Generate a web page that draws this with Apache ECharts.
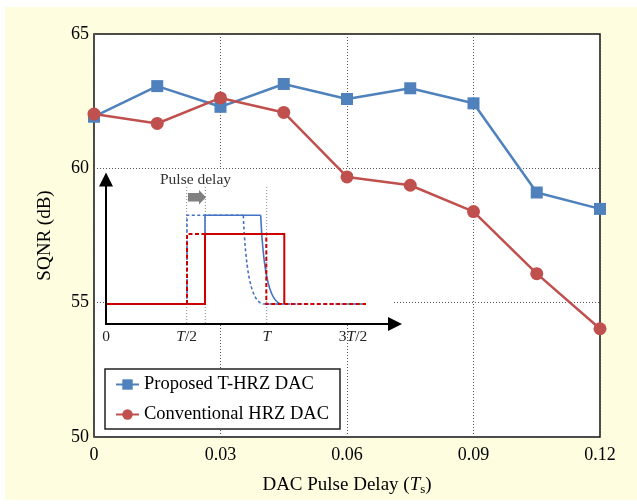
<!DOCTYPE html>
<html><head><meta charset="utf-8">
<script src="https://cdn.jsdelivr.net/npm/echarts@6/dist/echarts.min.js"></script>
<style>html,body{margin:0;padding:0;background:#fff}#c{width:637px;height:504px}</style>
</head><body><div id="c"></div>
<script>
const delays = [0, 0.015, 0.03, 0.045, 0.06, 0.075, 0.09, 0.105, 0.12];
const proposed = [61.92, 63.06, 62.29, 63.14, 62.58, 62.98, 62.42, 59.10, 58.49];
const conventional = [62.02, 61.67, 62.62, 62.08, 59.68, 59.37, 58.39, 56.08, 54.03];
const seriesNames = ['Proposed T-HRZ DAC', 'Conventional HRZ DAC'];
const insetTicks = ['0', '{i|T}/2', '{i|T}', '3{i|T}/2'];

const F = 'Liberation Serif';
const BLUE = '#4F81BD', RED = '#C0504D';
const IBLUE = '#4472C4', IRED = '#CC0000';

const g = [];
g.push({type:'rect', z:-10, silent:true, shape:{x:5,y:7,width:632,height:493}, style:{fill:'#FEFDE0'}});
// inset white box
g.push({type:'rect', z:1, silent:true, shape:{x:106,y:169,width:286,height:155}, style:{fill:'#fff'}});
// gray dotted guides
[186.7, 205.3, 266.7].forEach(x => g.push({type:'line', z:1, silent:true,
  shape:{x1:x,y1:187,x2:x,y2:323}, style:{stroke:'#8a8a8a', lineWidth:1, lineDash:[1,2]}}));
// blue dashed (no delay)
g.push({type:'polyline', z:1, silent:true, shape:{points:[[187,304],[187,215.3],[243.3,215.3]]},
  style:{stroke:IBLUE, lineWidth:1.6, lineDash:[3,2.5], fill:null}});
g.push({type:'bezierCurve', z:1, silent:true, shape:{x1:243.3,y1:215.3,cpx1:245.5,cpy1:265,cpx2:250,cpy2:302,x2:263.3,y2:304},
  style:{stroke:IBLUE, lineWidth:1.6, lineDash:[3,2.5], fill:null}});
g.push({type:'line', z:1, silent:true, shape:{x1:263.3,y1:304,x2:366,y2:304},
  style:{stroke:IBLUE, lineWidth:1.6, lineDash:[3,3]}});
// blue solid (delayed)
g.push({type:'polyline', z:1, silent:true, shape:{points:[[205,304],[205,215.3],[260.7,215.3]]},
  style:{stroke:IBLUE, lineWidth:1.6, fill:null}});
g.push({type:'bezierCurve', z:1, silent:true, shape:{x1:260.7,y1:215.3,cpx1:263,cpy1:265,cpx2:268,cpy2:302,x2:281.7,y2:304},
  style:{stroke:IBLUE, lineWidth:1.6, fill:null}});
// red solid (delayed)
g.push({type:'polyline', z:1, silent:true, shape:{points:[[106,304],[205,304],[205,234],[284.3,234],[284.3,304]]},
  style:{stroke:IRED, lineWidth:2, fill:null}});
// red dashed (no delay)
g.push({type:'polyline', z:1, silent:true, shape:{points:[[187,304],[187,234],[205,234]]},
  style:{stroke:IRED, lineWidth:2, lineDash:[4,2.5], fill:null}});
g.push({type:'polyline', z:1, silent:true, shape:{points:[[266.3,234],[266.3,304],[366,304]]},
  style:{stroke:IRED, lineWidth:2, lineDash:[4,2.5], lineDashOffset:3, fill:null}});
// black axes with arrows
g.push({type:'line', z:1, silent:true, shape:{x1:106,y1:324,x2:106,y2:184}, style:{stroke:'#000', lineWidth:2}});
g.push({type:'polygon', z:1, silent:true, shape:{points:[[106,172.5],[99,186.5],[113,186.5]]}, style:{fill:'#000'}});
g.push({type:'line', z:1, silent:true, shape:{x1:105,y1:324,x2:390,y2:324}, style:{stroke:'#000', lineWidth:2}});
g.push({type:'polygon', z:1, silent:true, shape:{points:[[402,324],[388,317],[388,331]]}, style:{fill:'#000'}});
// gray delay arrow
g.push({type:'polygon', z:1, silent:true, shape:{points:[[188,193],[199,193],[199,190],[206,197.3],[199,204.5],[199,201.5],[188,201.5]]}, style:{fill:'#808080'}});
g.push({type:'text', z:1, silent:true, x:160, y:180, style:{text:'Pulse delay', font:'15.5px "Liberation Serif"', fill:'#333', verticalAlign:'middle', align:'left'}});
const insetX = [106, 186.7, 266.7, 353];
insetTicks.forEach((t, i) => g.push({type:'text', z:1, silent:true, x:insetX[i], y:337,
  style:{text:t, fontFamily:F, fontSize:15.5, fill:'#222', align:'center', verticalAlign:'middle',
    rich:{i:{fontFamily:F, fontSize:15.5, fontStyle:'italic', fill:'#222'}}}}));

const chart = echarts.init(document.getElementById('c'), null, {renderer:'canvas'});
chart.setOption({
  animation:false,
  backgroundColor:'#fff',
  textStyle:{fontFamily:F},
  grid:{left:94, top:34, right:37, bottom:67, show:true, backgroundColor:'#fff', borderColor:'#111', borderWidth:1.5, containLabel:false},
  legend:{
    orient:'vertical', left:105, top:369, backgroundColor:'#fff', borderColor:'#222', borderWidth:1.5,
    padding:[6,11,5,10], itemWidth:23, itemHeight:13, itemGap:11,
    textStyle:{fontFamily:F, fontSize:18.5, color:'#000', lineHeight:18},
    data:seriesNames
  },
  xAxis:{
    type:'value', min:0, max:0.12, interval:0.03,
    axisLine:{show:false}, axisTick:{show:false},
    axisLabel:{color:'#000', fontSize:18, fontFamily:F, margin:9, formatter:v => v === 0 ? '0' : v.toFixed(2)},
    splitLine:{show:true, lineStyle:{color:'#555', type:[1,2], width:1}},
    name:'{n|DAC Pulse Delay (}{i|T}{s|s}{n|)}', nameLocation:'middle', nameGap:37,
    nameTextStyle:{fontFamily:F, fontSize:19, color:'#000',
      rich:{n:{fontFamily:F, fontSize:19, color:'#000', lineHeight:22, verticalAlign:'middle'},
            i:{fontFamily:F, fontSize:19, color:'#000', fontStyle:'italic', lineHeight:22, verticalAlign:'middle'},
            s:{fontFamily:F, fontSize:13, color:'#000', lineHeight:22, verticalAlign:'bottom'}}}
  },
  yAxis:{
    type:'value', min:50, max:65, interval:5,
    axisLine:{show:false}, axisTick:{show:false},
    axisLabel:{color:'#000', fontSize:18, fontFamily:F, margin:5},
    splitLine:{show:true, lineStyle:{color:'#555', type:[1,2], width:1}},
    name:'SQNR (dB)', nameLocation:'middle', nameGap:39,
    nameTextStyle:{fontFamily:F, fontSize:19, color:'#000'}
  },
  graphic:{elements:g},
  series:[
    {name:seriesNames[0], type:'line', data:delays.map((d,i)=>[d, proposed[i]]), symbol:'rect', symbolSize:12,
     itemStyle:{color:BLUE}, lineStyle:{color:BLUE, width:2.5}, z:3},
    {name:seriesNames[1], type:'line', data:delays.map((d,i)=>[d, conventional[i]]), symbol:'circle', symbolSize:13,
     itemStyle:{color:RED}, lineStyle:{color:RED, width:2.5}, z:4}
  ]
});
</script></body></html>
